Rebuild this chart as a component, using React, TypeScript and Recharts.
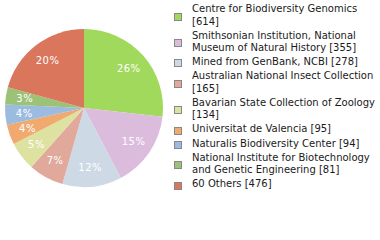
import React from "react";
import { PieChart, Pie, Cell, Legend } from "recharts";

const names = [
  "Centre for Biodiversity Genomics",
  "Smithsonian Institution, National Museum of Natural History",
  "Mined from GenBank, NCBI",
  "Australian National Insect Collection",
  "Bavarian State Collection of Zoology",
  "Universitat de Valencia",
  "Naturalis Biodiversity Center",
  "National Institute for Biotechnology and Genetic Engineering",
  "60 Others",
];
const counts = [614, 355, 278, 165, 134, 95, 94, 81, 476];
const colors = [
  "#a0d95b",
  "#dcbcdd",
  "#cdd9e5",
  "#e0a99c",
  "#dde2a0",
  "#f0aa70",
  "#9bbbe0",
  "#9cc277",
  "#d9765b",
];

const data = names.map((n, i) => ({ name: n, value: counts[i] }));

const RAD = Math.PI / 180;

const renderLabel = (props: any) => {
  const { cx, cy, midAngle, percent } = props;
  const r = 60;
  const x = cx + r * Math.cos(-midAngle * RAD);
  const y = cy + r * Math.sin(-midAngle * RAD);
  return (
    <text
      x={x}
      y={y}
      fill="#ffffff"
      textAnchor="middle"
      dominantBaseline="central"
      fontFamily="DejaVu Sans"
      fontSize={10}
      letterSpacing={0.5}
    >
      {Math.floor(percent * 100) + "%"}
    </text>
  );
};

const LegendContent = () => (
  <div style={{ fontFamily: "DejaVu Sans", fontSize: 10, color: "#1a1a1a", lineHeight: "12.5px" }}>
    {names.map((n, i) => (
      <div key={n} style={{ display: "flex", alignItems: "center", marginBottom: 1.6 }}>
        <div
          style={{
            width: 6,
            height: 6,
            border: "1px solid #888",
            background: colors[i],
            flex: "none",
            marginRight: 10,
            marginTop: 2,
          }}
        />
        <div style={{ width: 188 }}>{`${n} [${counts[i]}]`}</div>
      </div>
    ))}
  </div>
);

export default function App() {
  return (
    <div style={{ position: "absolute", left: 0, top: 0, width: 380, height: 240, background: "#fff" }}>
      <PieChart width={380} height={240} margin={{ top: 0, right: 0, bottom: 0, left: 0 }}>
        <Pie
          data={data}
          dataKey="value"
          nameKey="name"
          cx={84}
          cy={108}
          outerRadius={79}
          startAngle={90}
          endAngle={-270}
          stroke="none"
          label={renderLabel}
          labelLine={false}
          isAnimationActive={false}
        >
          {data.map((d, i) => (
            <Cell key={d.name} fill={colors[i]} />
          ))}
        </Pie>
        <Legend
          content={<LegendContent />}
          wrapperStyle={{ position: "absolute", left: 174, top: 3, width: 206, right: "auto", bottom: "auto" }}
        />
      </PieChart>
    </div>
  );
}
